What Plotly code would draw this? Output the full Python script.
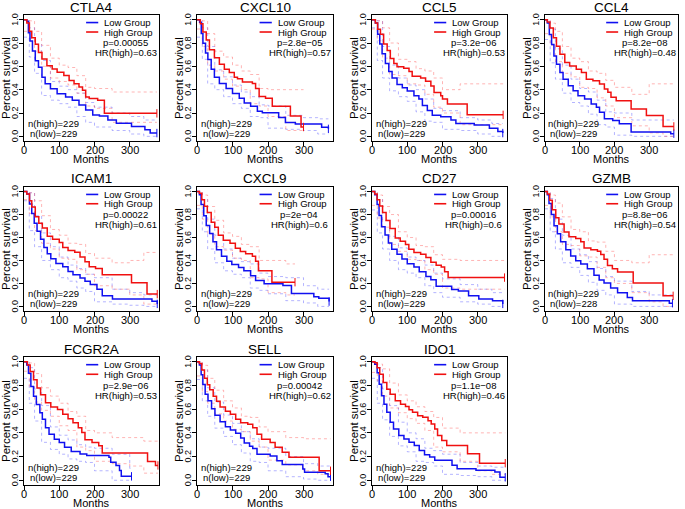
import plotly.graph_objects as go

# ---------------- data ----------------
genes = ["CTLA4", "CXCL10", "CCL5", "CCL4", "ICAM1", "CXCL9", "CD27", "GZMB", "FCGR2A", "SELL", "IDO1"]
p_values = ["0.00055", "2.8e\u221205", "3.2e\u221206", "8.2e\u221208", "0.00022", "2e\u221204",
            "0.00016", "8.8e\u221206", "2.9e\u221206", "0.00042", "1.1e\u221208"]
hr_values = ["0.63", "0.57", "0.53", "0.48", "0.61", "0.6", "0.6", "0.54", "0.53", "0.62", "0.46"]
n_high = [229, 229, 229, 229, 229, 229, 229, 229, 229, 229, 229]
n_low = [229, 229, 229, 229, 229, 229, 229, 228, 229, 229, 229]
x_ticks = [0, 100, 200, 300]
y_ticks = [0.0, 0.2, 0.4, 0.6, 0.8, 1.0]

# time grid on which the dotted confidence bands were read
CI_T = [0, 15, 30, 50, 75, 100, 125, 150, 175, 200, 250, 300, 340]

# CTLA4
CTLA4_low_t = [0, 8, 12.5, 17, 24, 32, 41, 51, 60, 75, 94, 118, 137, 156, 175, 195, 214, 238, 262, 305, 343, 358, 377]
CTLA4_low_s = [1, 0.986, 0.887, 0.817, 0.732, 0.648, 0.592, 0.507, 0.451, 0.408, 0.366, 0.338, 0.31, 0.268, 0.225, 0.183, 0.175, 0.141, 0.113, 0.085, 0.056, 0.028, 0.028]
CTLA4_high_t = [0, 8, 15.3, 22, 32, 41, 51, 65, 80, 94, 113, 128, 142, 156, 166, 175, 185, 209, 228, 377]
CTLA4_high_s = [1, 0.972, 0.901, 0.845, 0.789, 0.718, 0.662, 0.606, 0.577, 0.549, 0.521, 0.479, 0.451, 0.423, 0.394, 0.338, 0.324, 0.31, 0.197, 0.197]
CTLA4_low_up = [1, 0.93, 0.79, 0.65, 0.47, 0.43, 0.40, 0.37, 0.29, 0.25, 0.20, 0.17, 0.14]
CTLA4_low_lo = [0.85, 0.68, 0.54, 0.35, 0.31, 0.28, 0.25, 0.17, 0.12, 0.08, 0.05, 0.02, 0.0]
CTLA4_high_up = [1, 0.99, 0.90, 0.78, 0.67, 0.61, 0.59, 0.52, 0.42, 0.41, 0.38, 0.38, 0.38]
CTLA4_high_lo = [0.90, 0.84, 0.73, 0.60, 0.50, 0.47, 0.44, 0.37, 0.26, 0.24, 0.12, 0.12, 0.12]

# CXCL10
CXCL10_low_t = [0, 7.4, 12, 16.7, 24, 30.6, 40, 49, 63, 82, 100, 119, 133, 151, 170, 184, 230, 249, 277, 351, 370]
CXCL10_low_s = [1, 0.978, 0.881, 0.798, 0.715, 0.659, 0.576, 0.507, 0.452, 0.41, 0.368, 0.327, 0.285, 0.258, 0.216, 0.202, 0.161, 0.119, 0.105, 0.078, 0.064]
CXCL10_high_t = [0, 9.3, 16.7, 26, 35, 49, 63, 77, 91, 105, 114, 128, 156, 165, 175, 193, 212, 263, 293, 300]
CXCL10_high_s = [1, 0.964, 0.895, 0.825, 0.742, 0.673, 0.618, 0.576, 0.548, 0.507, 0.493, 0.465, 0.452, 0.41, 0.341, 0.327, 0.258, 0.175, 0.08, 0.08]
CXCL10_low_up = [1, 0.93, 0.77, 0.57, 0.51, 0.44, 0.38, 0.34, 0.27, 0.26, 0.18, 0.16, 0.15]
CXCL10_low_lo = [0.85, 0.66, 0.45, 0.40, 0.34, 0.28, 0.24, 0.17, 0.16, 0.07, 0.06, 0.05, 0.02]
CXCL10_high_up = [1, 0.99, 0.88, 0.73, 0.68, 0.61, 0.56, 0.53, 0.41, 0.40, 0.40, 0.40, 0.40]
CXCL10_high_lo = [0.92, 0.77, 0.61, 0.56, 0.49, 0.43, 0.40, 0.28, 0.26, 0.17, 0.05, 0.0, 0.0]

# CCL5
CCL5_low_t = [0, 9.5, 16, 22, 28.6, 38, 47.6, 57, 71, 86, 100, 119, 133, 143, 157, 171, 195, 224, 238, 290, 333, 357, 371]
CCL5_low_s = [1, 0.972, 0.875, 0.792, 0.708, 0.625, 0.556, 0.5, 0.444, 0.417, 0.389, 0.347, 0.319, 0.264, 0.222, 0.18, 0.167, 0.139, 0.111, 0.097, 0.069, 0.042, 0.028]
CCL5_high_t = [0, 9.5, 16, 24, 33, 43, 52, 62, 71, 90, 105, 114, 138, 152, 167, 176, 195, 200, 214, 270, 372]
CCL5_high_s = [1, 0.972, 0.917, 0.875, 0.792, 0.736, 0.667, 0.625, 0.597, 0.583, 0.556, 0.514, 0.5, 0.472, 0.431, 0.375, 0.347, 0.319, 0.278, 0.184, 0.184]
CCL5_low_up = [1, 0.99, 0.77, 0.61, 0.50, 0.44, 0.40, 0.32, 0.24, 0.22, 0.16, 0.14, 0.11]
CCL5_low_lo = [0.93, 0.65, 0.50, 0.39, 0.34, 0.30, 0.21, 0.13, 0.12, 0.06, 0.05, 0.02, 0.0]
CCL5_high_up = [1, 0.99, 0.93, 0.80, 0.66, 0.64, 0.58, 0.56, 0.50, 0.40, 0.45, 0.45, 0.45]
CCL5_high_lo = [0.92, 0.82, 0.67, 0.53, 0.52, 0.45, 0.44, 0.36, 0.25, 0.20, 0.10, 0.10, 0.10]

# CCL4
CCL4_low_t = [0, 6.7, 12.4, 19, 25.7, 33, 43, 52, 67, 81, 95, 114, 133, 148, 157, 171, 195, 214, 248, 362, 371]
CCL4_low_s = [1, 0.972, 0.873, 0.788, 0.688, 0.618, 0.547, 0.49, 0.433, 0.391, 0.348, 0.32, 0.278, 0.249, 0.207, 0.15, 0.136, 0.108, 0.037, 0.023, 0.023]
CCL4_high_t = [0, 6.7, 14.3, 24, 33, 43, 57, 71, 90, 105, 119, 138, 157, 171, 181, 190, 205, 248, 292, 340, 371]
CCL4_high_s = [1, 0.98, 0.929, 0.844, 0.773, 0.703, 0.632, 0.603, 0.575, 0.547, 0.49, 0.476, 0.448, 0.405, 0.377, 0.334, 0.306, 0.235, 0.178, 0.085, 0.085]
CCL4_low_up = [1, 0.92, 0.75, 0.61, 0.49, 0.41, 0.38, 0.31, 0.21, 0.20, 0.14, 0.14, 0.14]
CCL4_low_lo = [0.83, 0.63, 0.49, 0.37, 0.29, 0.26, 0.19, 0.10, 0.08, 0.01, 0.0, 0.0, 0.0]
CCL4_high_up = [1, 0.97, 0.90, 0.77, 0.67, 0.64, 0.56, 0.54, 0.48, 0.42, 0.36, 0.45, 0.45]
CCL4_high_lo = [0.88, 0.78, 0.64, 0.54, 0.51, 0.42, 0.41, 0.33, 0.26, 0.16, 0.09, 0.03, 0.0]

# ICAM1
ICAM1_low_t = [0, 7.8, 15.6, 22, 29, 37, 47, 56.5, 66, 76, 90.6, 110, 125, 139, 159, 173, 188, 207, 222, 251, 363, 378]
ICAM1_low_s = [1, 0.978, 0.893, 0.809, 0.725, 0.654, 0.584, 0.514, 0.458, 0.416, 0.374, 0.346, 0.303, 0.275, 0.247, 0.219, 0.191, 0.149, 0.093, 0.065, 0.045, 0.022]
ICAM1_high_t = [0, 7.8, 15.6, 22, 32, 42, 52, 66, 81, 100, 110, 125, 144, 159, 173, 185, 203, 222, 305, 349, 378]
ICAM1_high_s = [1, 0.978, 0.921, 0.865, 0.781, 0.725, 0.683, 0.612, 0.584, 0.556, 0.514, 0.486, 0.472, 0.43, 0.388, 0.346, 0.331, 0.275, 0.205, 0.107, 0.107]
ICAM1_low_up = [1, 0.99, 0.79, 0.64, 0.52, 0.43, 0.36, 0.33, 0.28, 0.25, 0.15, 0.12, 0.10]
ICAM1_low_lo = [0.92, 0.66, 0.52, 0.40, 0.32, 0.25, 0.22, 0.16, 0.13, 0.04, 0.02, 0.01, 0.0]
ICAM1_high_up = [1, 0.99, 0.92, 0.79, 0.67, 0.62, 0.55, 0.54, 0.46, 0.42, 0.38, 0.40, 0.47]
ICAM1_high_lo = [0.93, 0.81, 0.66, 0.55, 0.50, 0.42, 0.41, 0.32, 0.28, 0.18, 0.15, 0.10, 0.02]

# CXCL9
CXCL9_low_t = [0, 6.7, 11.5, 19, 26, 35.6, 45, 55, 69, 84, 98, 117, 132, 151, 165, 189, 242, 266, 329, 343, 372]
CXCL9_low_s = [1, 0.972, 0.887, 0.789, 0.704, 0.634, 0.563, 0.493, 0.437, 0.394, 0.366, 0.338, 0.31, 0.268, 0.225, 0.197, 0.183, 0.113, 0.085, 0.07, 0.042]
CXCL9_high_t = [0, 6.7, 13.5, 21, 29, 40, 50, 60, 74, 93, 108, 122, 137, 156, 165, 173, 211, 276]
CXCL9_high_s = [1, 0.986, 0.93, 0.873, 0.817, 0.732, 0.69, 0.62, 0.577, 0.549, 0.507, 0.479, 0.459, 0.437, 0.394, 0.31, 0.211, 0.211]
CXCL9_low_up = [1, 0.93, 0.76, 0.62, 0.50, 0.42, 0.39, 0.37, 0.29, 0.26, 0.25, 0.18, 0.15]
CXCL9_low_lo = [0.85, 0.65, 0.50, 0.38, 0.31, 0.28, 0.25, 0.16, 0.14, 0.11, 0.05, 0.03, 0.0]
CXCL9_high_up = [1, 0.97, 0.87, 0.75, 0.64, 0.61, 0.54, 0.52, 0.40, 0.40, 0.37, 0.37, 0.37]
CXCL9_high_lo = [0.88, 0.76, 0.63, 0.52, 0.49, 0.42, 0.40, 0.25, 0.24, 0.12, 0.10, 0.10, 0.10]

# CD27
CD27_low_t = [0, 7.7, 14.5, 20, 27, 37, 46.5, 56, 71, 85, 100, 119, 134, 153, 167, 182, 226, 245, 274, 303, 342, 371]
CD27_low_s = [1, 0.972, 0.888, 0.791, 0.693, 0.623, 0.553, 0.497, 0.455, 0.413, 0.372, 0.344, 0.302, 0.26, 0.232, 0.176, 0.148, 0.134, 0.092, 0.064, 0.05, 0.022]
CD27_high_t = [0, 7.7, 14.5, 22, 30, 40, 51, 66, 80, 95, 104.5, 119, 138, 153, 167, 182, 196.5, 206, 216, 376]
CD27_high_s = [1, 0.978, 0.93, 0.874, 0.818, 0.749, 0.679, 0.595, 0.567, 0.539, 0.497, 0.469, 0.455, 0.427, 0.385, 0.358, 0.344, 0.302, 0.251, 0.251]
CD27_low_up = [1, 0.93, 0.75, 0.61, 0.51, 0.43, 0.40, 0.36, 0.29, 0.24, 0.19, 0.15, 0.12]
CD27_low_lo = [0.84, 0.64, 0.50, 0.40, 0.32, 0.29, 0.25, 0.18, 0.12, 0.08, 0.04, 0.02, 0.0]
CD27_high_up = [1, 0.97, 0.87, 0.80, 0.65, 0.60, 0.53, 0.52, 0.45, 0.41, 0.40, 0.40, 0.40]
CD27_high_lo = [0.88, 0.77, 0.69, 0.54, 0.48, 0.41, 0.40, 0.32, 0.28, 0.16, 0.15, 0.15, 0.15]

# GZMB
GZMB_low_t = [0, 6.7, 11.5, 18.3, 26, 35.6, 45, 60, 74, 88.5, 103, 122, 141, 156, 170, 189, 209, 237, 252, 358, 367]
GZMB_low_s = [1, 0.972, 0.897, 0.8, 0.703, 0.633, 0.564, 0.494, 0.439, 0.397, 0.369, 0.328, 0.272, 0.231, 0.203, 0.161, 0.119, 0.078, 0.05, 0.028, 0.028]
GZMB_high_t = [0, 6.7, 13.5, 21, 31, 40, 55, 69, 88.5, 103, 112.5, 132, 151, 160.6, 170, 180, 194, 209, 254, 340, 369]
GZMB_high_s = [1, 0.98, 0.925, 0.842, 0.772, 0.717, 0.647, 0.606, 0.592, 0.564, 0.508, 0.494, 0.481, 0.453, 0.411, 0.356, 0.328, 0.3, 0.203, 0.092, 0.092]
GZMB_low_up = [1, 0.94, 0.76, 0.62, 0.50, 0.45, 0.39, 0.33, 0.26, 0.22, 0.13, 0.10, 0.10]
GZMB_low_lo = [0.85, 0.65, 0.50, 0.38, 0.34, 0.27, 0.21, 0.14, 0.10, 0.02, 0.0, 0.0, 0.0]
GZMB_high_up = [1, 0.97, 0.90, 0.78, 0.67, 0.65, 0.57, 0.56, 0.48, 0.40, 0.38, 0.45, 0.45]
GZMB_high_lo = [0.88, 0.78, 0.65, 0.54, 0.53, 0.44, 0.43, 0.34, 0.25, 0.20, 0.12, 0.04, 0.0]

# FCGR2A
FCGR2A_low_t = [0, 7.8, 12.7, 19.5, 27, 35, 45, 52, 61, 71, 86, 100, 115, 134, 159, 178, 241, 246, 261, 271, 276, 305]
FCGR2A_low_s = [1, 0.972, 0.903, 0.792, 0.708, 0.639, 0.569, 0.514, 0.444, 0.389, 0.347, 0.319, 0.278, 0.242, 0.222, 0.208, 0.194, 0.153, 0.125, 0.083, 0.033, 0.033]
FCGR2A_high_t = [0, 9.7, 17.5, 27, 37, 47, 61, 76, 95, 110, 125, 139, 154, 164, 173, 193, 212, 222, 350.5, 373, 380]
FCGR2A_high_s = [1, 0.972, 0.917, 0.847, 0.778, 0.722, 0.653, 0.619, 0.597, 0.556, 0.519, 0.486, 0.444, 0.403, 0.342, 0.319, 0.292, 0.231, 0.158, 0.125, 0.125]
FCGR2A_low_up = [1, 0.95, 0.77, 0.63, 0.45, 0.38, 0.34, 0.30, 0.28, 0.27, 0.22, 0.10, 0.10]
FCGR2A_low_lo = [0.86, 0.65, 0.50, 0.32, 0.26, 0.22, 0.18, 0.16, 0.15, 0.08, 0.0, 0.0, 0.0]
FCGR2A_high_up = [1, 0.99, 0.90, 0.78, 0.71, 0.65, 0.58, 0.54, 0.42, 0.40, 0.36, 0.36, 0.33]
FCGR2A_high_lo = [0.92, 0.79, 0.66, 0.59, 0.54, 0.46, 0.42, 0.28, 0.25, 0.16, 0.14, 0.12, 0.06]

# SELL
SELL_low_t = [0, 6.8, 11.7, 16.5, 23, 31, 41, 50.5, 65, 80, 94, 109, 123, 133, 148, 157, 169, 206, 225, 240, 298, 303, 361, 369, 376]
SELL_low_s = [1, 0.973, 0.89, 0.808, 0.726, 0.671, 0.603, 0.548, 0.493, 0.452, 0.425, 0.397, 0.356, 0.315, 0.288, 0.268, 0.219, 0.205, 0.164, 0.132, 0.096, 0.068, 0.055, 0.03, 0.03]
SELL_high_t = [0, 6.8, 13.6, 21, 29, 36, 45.6, 55, 65, 80, 94, 109, 123, 143, 157, 169, 182, 206, 220, 240, 259, 344, 376]
SELL_high_s = [1, 0.986, 0.931, 0.861, 0.806, 0.764, 0.708, 0.667, 0.619, 0.583, 0.556, 0.514, 0.486, 0.472, 0.444, 0.389, 0.347, 0.319, 0.278, 0.236, 0.194, 0.08, 0.08]
SELL_low_up = [1, 0.93, 0.78, 0.66, 0.55, 0.48, 0.41, 0.35, 0.28, 0.27, 0.20, 0.14, 0.12]
SELL_low_lo = [0.85, 0.67, 0.54, 0.44, 0.37, 0.30, 0.23, 0.16, 0.15, 0.08, 0.03, 0.01, 0.0]
SELL_high_up = [1, 0.97, 0.86, 0.76, 0.67, 0.61, 0.54, 0.53, 0.45, 0.41, 0.36, 0.35, 0.35]
SELL_high_lo = [0.88, 0.75, 0.65, 0.56, 0.50, 0.43, 0.41, 0.33, 0.28, 0.17, 0.13, 0.08, 0.05]

# IDO1
IDO1_low_t = [0, 7.8, 14.6, 20.4, 27, 34, 42, 51.6, 61, 76, 90.6, 105, 120, 134, 149, 163.6, 178, 227, 241.5, 295, 348.6, 363, 378]
IDO1_low_s = [1, 0.978, 0.908, 0.81, 0.712, 0.642, 0.573, 0.489, 0.433, 0.377, 0.349, 0.321, 0.293, 0.251, 0.215, 0.196, 0.168, 0.126, 0.098, 0.084, 0.07, 0.025, 0.025]
IDO1_high_t = [0, 7.8, 14.6, 22, 32, 42, 51.6, 66, 81, 95, 105, 115, 129.5, 144, 159, 168, 178, 186, 198, 212, 271, 305, 378]
IDO1_high_s = [1, 0.992, 0.95, 0.894, 0.824, 0.768, 0.726, 0.67, 0.642, 0.623, 0.595, 0.573, 0.545, 0.531, 0.503, 0.475, 0.433, 0.377, 0.335, 0.293, 0.223, 0.144, 0.144]
IDO1_low_up = [1, 0.95, 0.77, 0.63, 0.49, 0.40, 0.35, 0.27, 0.25, 0.22, 0.15, 0.12, 0.11]
IDO1_low_lo = [0.86, 0.65, 0.51, 0.37, 0.29, 0.24, 0.16, 0.15, 0.12, 0.05, 0.04, 0.03, 0.0]
IDO1_high_up = [1, 0.98, 0.94, 0.82, 0.72, 0.67, 0.62, 0.58, 0.53, 0.44, 0.40, 0.40, 0.40]
IDO1_high_lo = [0.91, 0.84, 0.71, 0.61, 0.57, 0.52, 0.48, 0.42, 0.28, 0.24, 0.16, 0.08, 0.05]

# ---------------- layout geometry (pixels) ----------------
W, H = 685, 509
COL_L = [24, 197, 372, 545]
COL_R = [159, 333, 507, 678]
ROW_T = [15, 187, 357]
ROW_B = [141, 311, 485]

FONT = "Liberation Sans, Arial, Helvetica, sans-serif"
BLUE = "#1010F0"
RED = "#F01010"
BLUE_CI = "rgba(60,60,255,0.38)"
RED_CI = "rgba(255,60,60,0.38)"
TXT = dict(family=FONT, color="black")
FS_TITLE, FS_AXT, FS_XT, FS_YT, FS_LEG = 13.5, 11, 11, 9, 9.5

tables = {}
for g in genes:
    tables[g] = {k: globals()[f"{g}_{k}"] for k in
                 ["low_t", "low_s", "high_t", "high_s", "low_up", "low_lo", "high_up", "high_lo"]}


def ci_xy(vals, end):
    ts = [t for t in CI_T if t < end]
    vs = list(vals[:len(ts)])
    return ts + [end], vs + [vs[-1]]


fig = go.Figure()
layout = dict(width=W, height=H, margin=dict(l=0, r=0, t=0, b=0, pad=0, autoexpand=False),
              paper_bgcolor="white", plot_bgcolor="white", showlegend=False,
              font=dict(family=FONT, color="black"))
annotations = []
shapes = []

for i, g in enumerate(genes):
    r, c = divmod(i, 4)
    n = i + 1
    xa = "x" if n == 1 else f"x{n}"
    ya = "y" if n == 1 else f"y{n}"
    xkey = "xaxis" if n == 1 else f"xaxis{n}"
    ykey = "yaxis" if n == 1 else f"yaxis{n}"
    l, rr, t, b = COL_L[c], COL_R[c], ROW_T[r], ROW_B[r]
    layout[xkey] = dict(domain=[l / W, rr / W], anchor=ya, range=[0, 383],
                        tickvals=x_ticks, showticklabels=False,
                        showgrid=False, zeroline=False, showline=True, mirror=True,
                        linecolor="black", linewidth=1, ticks="outside", ticklen=4,
                        tickcolor="black")
    layout[ykey] = dict(domain=[1 - b / H, 1 - t / H], anchor=xa, range=[-0.04, 1.04],
                        tickvals=y_ticks, showticklabels=False,
                        showgrid=False, zeroline=False, showline=True, mirror=True,
                        linecolor="black", linewidth=1, ticks="outside", ticklen=4,
                        tickcolor="black")
    d = tables[g]
    # confidence bands (dotted)
    for grp, col in (("low", BLUE_CI), ("high", RED_CI)):
        end = d[f"{grp}_t"][-1]
        for band in ("up", "lo"):
            cx, cy = ci_xy(d[f"{grp}_{band}"], end)
            fig.add_trace(go.Scatter(x=cx, y=cy, mode="lines", xaxis=xa, yaxis=ya,
                                     line=dict(shape="hv", color=col, width=1, dash="dot"),
                                     hoverinfo="skip"))
    # survival curves
    for grp, col in (("low", BLUE), ("high", RED)):
        fig.add_trace(go.Scatter(x=d[f"{grp}_t"], y=d[f"{grp}_s"], mode="lines", xaxis=xa, yaxis=ya,
                                 line=dict(shape="hv", color=col, width=1.5), hoverinfo="skip"))
        fig.add_trace(go.Scatter(x=[d[f"{grp}_t"][-1]], y=[d[f"{grp}_s"][-1]], mode="markers",
                                 xaxis=xa, yaxis=ya,
                                 marker=dict(symbol="line-ns-open", size=6, color=col,
                                             line=dict(width=1, color=col)),
                                 hoverinfo="skip"))

    xd, yd = f"{xa} domain", f"{ya} domain"
    cx_mid = (l + rr) / 2 / W
    # tick labels
    for v in x_ticks:
        annotations.append(dict(text=str(v), x=v, y=0, xref=xa, yref=yd, yshift=-9,
                                showarrow=False, xanchor="center", yanchor="middle",
                                font=dict(size=FS_XT, **TXT)))
    for v in y_ticks:
        annotations.append(dict(text=f"{v:.1f}", x=0, y=v, xref=xd, yref=ya, xshift=-9,
                                textangle=-90, showarrow=False, xanchor="center", yanchor="middle",
                                font=dict(size=FS_YT, **TXT)))
    # title
    annotations.append(dict(text=g, x=cx_mid, y=1 - (t - 8) / H, xref="paper", yref="paper",
                            showarrow=False, xanchor="center", yanchor="middle",
                            font=dict(size=FS_TITLE, **TXT)))
    # axis titles
    annotations.append(dict(text="Months", x=cx_mid, y=1 - (b + 17.5) / H, xref="paper", yref="paper",
                            showarrow=False, xanchor="center", yanchor="middle",
                            font=dict(size=FS_AXT, **TXT)))
    annotations.append(dict(text="Percent survival", x=(l - 18) / W, y=1 - (t + b) / 2 / H,
                            xref="paper", yref="paper", textangle=-90, showarrow=False,
                            xanchor="center", yanchor="middle",
                            font=dict(size=11.5, **TXT)))
    # in-panel legend
    shapes.append(dict(type="line", xref=xd, yref=yd, x0=0.46, x1=0.55, y0=0.94, y1=0.94,
                       line=dict(color=BLUE, width=1.6)))
    shapes.append(dict(type="line", xref=xd, yref=yd, x0=0.46, x1=0.55, y0=0.865, y1=0.865,
                       line=dict(color=RED, width=1.6)))
    for txt, yy in (("Low Group", 0.94), ("High Group", 0.865)):
        annotations.append(dict(text=txt, x=0.578, y=yy, xref=xd, yref=yd, showarrow=False,
                                xanchor="left", yanchor="middle", font=dict(size=FS_LEG, **TXT)))
    annotations.append(dict(text=f"p={p_values[i]}", x=0.75, y=0.78, xref=xd, yref=yd, showarrow=False,
                            xanchor="center", yanchor="middle", font=dict(size=FS_LEG, **TXT)))
    annotations.append(dict(text=f"HR(high)={hr_values[i]}", x=0.755, y=0.70, xref=xd, yref=yd,
                            showarrow=False, xanchor="center", yanchor="middle",
                            font=dict(size=FS_LEG, **TXT)))
    annotations.append(dict(text=f"n(high)={n_high[i]}", x=0.215, y=0.14, xref=xd, yref=yd,
                            showarrow=False, xanchor="center", yanchor="middle",
                            font=dict(size=FS_LEG, **TXT)))
    annotations.append(dict(text=f"n(low)={n_low[i]}", x=0.215, y=0.062, xref=xd, yref=yd,
                            showarrow=False, xanchor="center", yanchor="middle",
                            font=dict(size=FS_LEG, **TXT)))

layout["annotations"] = annotations
layout["shapes"] = shapes
fig.update_layout(**layout)
fig.write_html("out.html", config={"displayModeBar": False},
               post_script="document.body.style.margin='0px';document.body.style.overflow='hidden';")
